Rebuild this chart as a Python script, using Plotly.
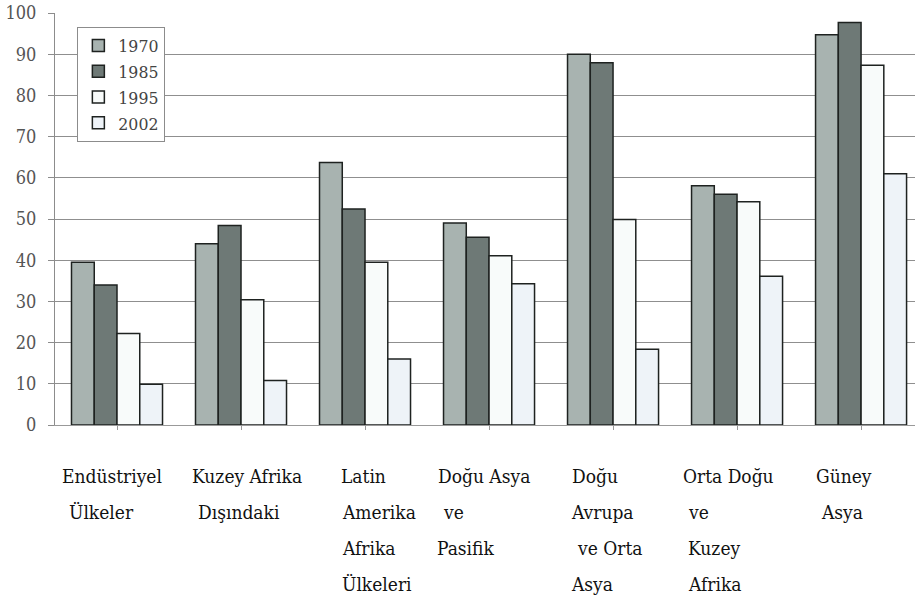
import plotly.graph_objects as go

# ---- data ----
categories = ["Endüstriyel Ülkeler", "Kuzey Afrika Dışındaki", "Latin Amerika Afrika Ülkeleri",
              "Doğu Asya ve Pasifik", "Doğu Avrupa ve Orta Asya", "Orta Doğu ve Kuzey Afrika",
              "Güney Asya"]
label_lines = [
    ["Endüstriyel", "Ülkeler"],
    ["Kuzey Afrika", "Dışındaki"],
    ["Latin", "Amerika", "Afrika", "Ülkeleri"],
    ["Doğu Asya", "ve", "Pasifik"],
    ["Doğu", "Avrupa", "ve Orta", "Asya"],
    ["Orta Doğu", "ve", "Kuzey", "Afrika"],
    ["Güney", "Asya"],
]
years = ["1970", "1985", "1995", "2002"]
v1970 = [39.5, 44.0, 63.7, 49.0, 90.0, 58.1, 94.7]
v1985 = [34.0, 48.4, 52.4, 45.6, 87.9, 56.0, 97.7]
v1995 = [22.2, 30.4, 39.5, 41.1, 49.9, 54.2, 87.3]
v2002 = [9.9, 10.8, 16.0, 34.3, 18.4, 36.1, 61.0]
y_ticks = [0, 10, 20, 30, 40, 50, 60, 70, 80, 90, 100]

# ---- style ----
colors = ["#a8b3b0", "#6e7976", "#f8fbfa", "#eef3f8"]
series = [v1970, v1985, v1995, v2002]
# horizontal start offsets (px from category centre) for each label line
line_offsets = [
    [-57, -50],
    [-51, -45],
    [-26, -25, -25, -25],
    [-53, -48, -54],
    [-43, -44, -38, -44],
    [-56, -51, -51, -51],
    [-47, -42],
]
line_y = [-51, -87, -123, -159]

FONT = "DejaVu Serif Condensed, DejaVu Serif, serif"
fig = go.Figure()
for name, vals, col in zip(years, series, colors):
    fig.add_trace(go.Bar(
        x=list(range(len(categories))), y=vals, name=name,
        marker=dict(color=col, line=dict(color="#1e2220", width=1.5)),
    ))

annotations = []
for i, lines in enumerate(label_lines):
    for j, txt in enumerate(lines):
        annotations.append(dict(
            x=i, xref="x", y=0, yref="paper", text=txt, showarrow=False,
            xanchor="left", yanchor="middle", xshift=line_offsets[i][j],
            yshift=line_y[j], font=dict(family=FONT, size=19, color="#111111"),
        ))

fig.update_layout(
    width=915, height=605,
    margin=dict(l=55, r=0, t=13, b=180),
    paper_bgcolor="white", plot_bgcolor="white",
    barmode="group", bargap=0.266, bargroupgap=0,
    font=dict(family=FONT, size=18, color="#555555"),
    showlegend=True,
    legend=dict(x=0.026, y=0.967, xanchor="left", yanchor="top",
                bgcolor="white", bordercolor="#8c8c8c", borderwidth=1,
                font=dict(family=FONT, size=17.5, color="#444444"),
                tracegroupgap=0, itemwidth=30),
    annotations=annotations,
    xaxis=dict(
        range=[-0.5, 6.435], tickmode="array", tickvals=list(range(len(categories))),
        ticktext=["" for _ in categories], showticklabels=False,
        tickson="boundaries", ticks="outside", ticklen=4, tickcolor="#999999",
        showline=True, linecolor="#999999", linewidth=1, showgrid=False, zeroline=False,
    ),
    yaxis=dict(
        range=[0, 100], tickvals=y_ticks, ticks="outside", ticklen=6,
        tickcolor="#8c8c8c", showline=True, linecolor="#8c8c8c", linewidth=1,
        showgrid=True, gridcolor="#8f8f8f", gridwidth=1, zeroline=False,
        ticklabelstandoff=8,
        tickfont=dict(family=FONT, size=18, color="#555555"),
    ),
)
fig.write_html("out.html")
